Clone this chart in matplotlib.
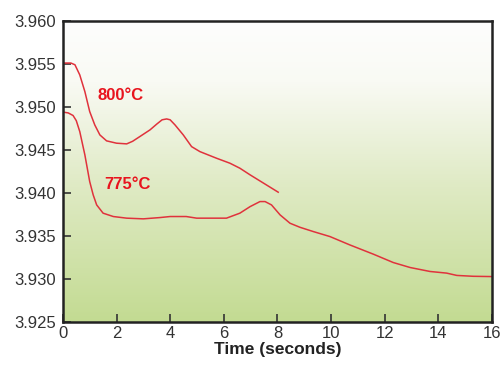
import matplotlib.pyplot as plt
import numpy as np
from matplotlib.colors import LinearSegmentedColormap

# 800 C run
t_800 = [0, 0.3, 0.45, 0.63, 0.82, 1.0, 1.19, 1.38, 1.63, 2.0, 2.38, 2.6,
         2.87, 3.25, 3.5, 3.7, 3.87, 4.0, 4.18, 4.49, 4.8, 5.11, 5.73, 6.23,
         6.6, 6.98, 7.5, 8.03]
a_800 = [3.9551, 3.9551, 3.9549, 3.95372, 3.95178, 3.94946, 3.9479, 3.94674,
         3.94605, 3.94578, 3.9457, 3.9460, 3.94655, 3.94733, 3.9480, 3.9485,
         3.9486, 3.9485, 3.94791, 3.94674, 3.94538, 3.9448, 3.94403, 3.94345,
         3.94287, 3.9421, 3.9411, 3.94008]

# 775 C run
t_775 = [0, 0.2, 0.38, 0.5, 0.63, 0.82, 1.0, 1.13, 1.26, 1.5, 1.88, 2.38,
         3.0, 3.62, 4.0, 4.6, 4.99, 5.6, 6.1, 6.6, 6.98, 7.35, 7.54, 7.78,
         8.1, 8.47, 8.84, 9.34, 9.96, 10.7, 11.58, 12.32, 12.95, 13.69, 14.31,
         14.69, 15.3, 15.93, 16]
a_775 = [3.9494, 3.9493, 3.9490, 3.9484, 3.94713, 3.94442, 3.94132, 3.93977,
         3.9386, 3.93764, 3.93725, 3.93706, 3.93698, 3.93713, 3.93725, 3.93725,
         3.93706, 3.93706, 3.93706, 3.93764, 3.9384, 3.93899, 3.93899, 3.9386,
         3.93744, 3.93647, 3.9360, 3.9355, 3.93492, 3.93395, 3.93287, 3.9319,
         3.93132, 3.93086, 3.93067, 3.9304, 3.9303, 3.93027, 3.93027]

x_ticks = [0, 2, 4, 6, 8, 10, 12, 14, 16]
y_ticks = [3.925, 3.930, 3.935, 3.940, 3.945, 3.950, 3.955, 3.960]

plt.rcParams["font.family"] = ["Liberation Sans", "DejaVu Sans"]

fig = plt.figure(figsize=(5.03, 3.67), dpi=100)
ax = fig.add_axes([0.125, 0.123, 0.853, 0.820])

# white-to-green background
cmap = LinearSegmentedColormap.from_list(
    "bg", [(0.0, "#c3db92"), (0.45, "#dfeac4"), (0.8, "#f9faf4"), (1.0, "#fdfdfd")])
grad = np.linspace(0, 1, 256).reshape(-1, 1)
ax.imshow(grad, cmap=cmap, aspect="auto", origin="lower",
          extent=[0, 16, 3.925, 3.960], zorder=0)

line_color = "#e0323c"
ax.plot(t_800, a_800, color=line_color, lw=1.1, solid_joinstyle="round")
ax.plot(t_775, a_775, color=line_color, lw=1.1, solid_joinstyle="round")

ax.text(1.3, 3.9513, "800°C", color="#e8141e", fontsize=12, fontweight="bold",
        va="center")
ax.text(1.53, 3.9410, "775°C", color="#e8141e", fontsize=12, fontweight="bold",
        va="center")

ax.set_xlim(0, 16)
ax.set_ylim(3.925, 3.960)
ax.set_xticks(x_ticks)
ax.set_yticks(y_ticks)
ax.set_yticklabels([f"{v:.3f}" for v in y_ticks])
ax.tick_params(direction="in", length=6, width=1.2, colors="#333333",
               labelsize=12, pad=5)
ax.tick_params(axis="x", pad=3)
for s in ax.spines.values():
    s.set_linewidth(1.8)
    s.set_color("#222222")

ax.set_xlabel("Time (seconds)", fontsize=12.5, fontweight="bold",
              color="#222222", labelpad=1)

fig.savefig("out.png", dpi=100)
